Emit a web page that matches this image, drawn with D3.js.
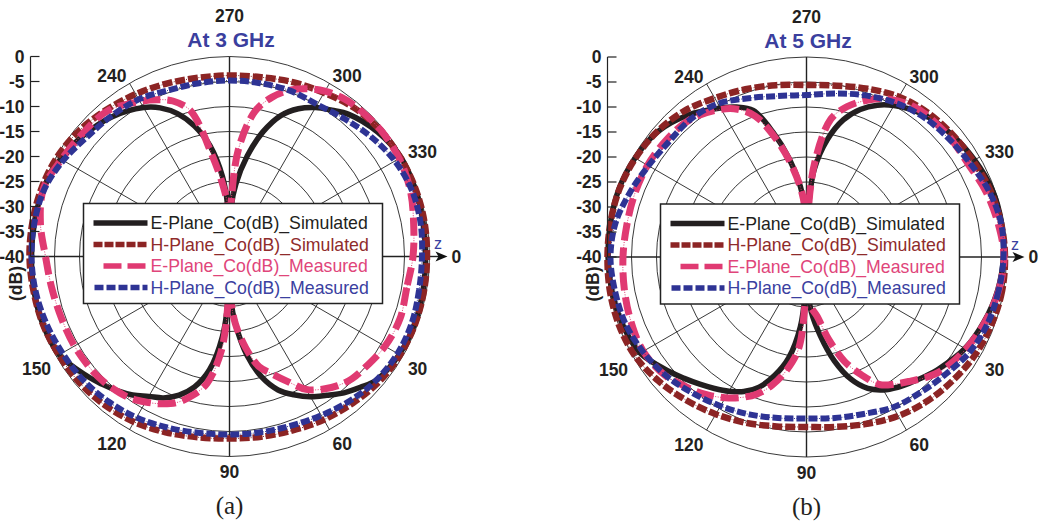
<!DOCTYPE html>
<html><head><meta charset="utf-8">
<script src="https://cdn.jsdelivr.net/npm/d3@7"></script>
<style>body{margin:0;background:#fff}</style>
</head><body><svg id="c" width="1046" height="522"></svg>
<script>
// ---------- DATA ----------
const seriesNames = ["E-Plane_Co(dB)_Simulated","H-Plane_Co(dB)_Simulated","E-Plane_Co(dB)_Measured","H-Plane_Co(dB)_Measured"];
const panelTitles = ["At 3 GHz","At 5 GHz"];
const panelTags = ["(a)","(b)"];
const radialTicks = [0,-5,-10,-15,-20,-25,-30,-35,-40];
const angleTickLabels = [0,30,60,90,120,150,240,270,300,330];
const spokeAngles = [0,30,60,90,120,150,180,210,240,270,300,330];

// angles (deg, clockwise from the right) for H-plane series
const angH = [0,10,20,30,40,50,60,70,80,90,100,110,120,130,140,150,160,170,180,190,200,210,220,230,240,250,260,270,280,290,300,310,320,330,340,350];
// angles for E-plane series (denser near the nulls)
const angE = [0,10,20,30,40,45,50,55,60,65,70,75,80,85,88,90,92,95,100,105,110,115,120,125,130,135,140,150,160,170,180,190,200,210,220,230,240,245,250,255,260,265,268,270,272,275,280,285,290,295,300,305,310,320,330,340,350];

// 3 GHz
const eSim3 = [-0.8,-0.7,-0.6,-0.8,-1.6,-3,-4.4,-6.1,-7.6,-9.5,-11.6,-15,-20,-26.5,-31,-40,-31,-24,-17,-13,-10.5,-8.8,-7.7,-6.2,-5,-3.9,-2.8,-0.7,-0.3,-0.3,-0.4,-0.4,-0.4,-1,-2.1,-3.5,-5.6,-7.2,-9.6,-13,-17.5,-24,-30,-40,-30,-25.5,-19.6,-14.2,-10,-7.4,-5.6,-4.3,-2.9,-1.3,-0.4,-0.5,-0.7];
const hSim3 = [-0.5,-0.5,-0.5,-0.6,-1,-1.7,-2.3,-3,-3.4,-3.6,-3.3,-2.6,-1.8,-1.2,-0.8,-0.6,-0.3,-0.2,0,0,0,-0.2,-0.8,-1.7,-2.5,-3.2,-3.7,-3.8,-3.6,-2.9,-2.2,-1.2,-0.7,-0.5,-0.4,-0.4];
const eMeas3 = [-3.3,-4,-3.7,-4.1,-5,-5.4,-6.3,-7.6,-9.3,-12.4,-15,-17.2,-21.5,-26.5,-31,-38,-30,-21,-14.3,-11.2,-8.9,-7.5,-6.4,-5.4,-4.9,-4.5,-4.3,-4.2,-4.2,-3.9,-3.2,-1.6,-0.4,-1.2,-1.7,-2,-4.2,-5.4,-6.9,-9.8,-19,-26,-30,-38,-28,-18,-10.5,-7,-4.6,-3,-1.8,-1.1,-0.8,-0.6,-0.8,-1.5,-2.6];
const hMeas3 = [-1.5,-1.5,-1.2,-1.2,-1.6,-2.4,-3.3,-4,-4.3,-4.4,-4.2,-3.6,-2.8,-2.2,-1.7,-1.4,-1,-0.6,-0.4,-0.4,-0.6,-1.6,-2.8,-3.3,-3.7,-4.6,-4.8,-4.8,-4.8,-4.7,-4.9,-4.1,-2.9,-1.8,-1.2,-1.2];

// 5 GHz
const eSim5 = [-0.6,-1.2,-2.2,-3.4,-5.3,-6.3,-7.3,-8.2,-9.3,-11,-14,-18.5,-24,-29,-34,-40,-33,-26,-19.5,-15.5,-12.3,-10.3,-9,-7.9,-6.8,-5.6,-4.3,-1.6,-0.8,-0.5,-0.3,-0.2,-0.1,-0.4,-1.1,-3,-5.6,-6.9,-8.8,-14.2,-20,-25.8,-30,-40,-31,-22.5,-16.2,-11.6,-8.6,-6.5,-5,-3.9,-3,-2,-1.2,-0.5,-0.4];
const hSim5 = [-0.3,-0.3,-0.6,-1,-1.7,-2.4,-3.3,-4.5,-5.5,-6,-5.6,-4.7,-3.7,-2.6,-1.4,-0.4,-0.1,-0.1,-0.2,-0.2,-0.2,-0.5,-1,-1.9,-3.3,-4.3,-5.1,-5.6,-5.2,-4.2,-3,-2.3,-1.9,-1.5,-0.9,-0.5];
const eMeas5 = [-0.5,-1,-2,-3.2,-4.7,-6,-7.6,-9,-10.5,-14,-17.8,-23,-28,-30,-33,-38,-30,-21.5,-17,-13.5,-10.8,-9,-7.5,-6.2,-5.1,-4.2,-3.1,-2.3,-2.6,-3,-3.3,-3.5,-3.4,-3.3,-3.5,-4,-5.9,-7.4,-10,-15,-20.5,-26,-30,-38,-31,-21,-12,-8.9,-6.8,-5,-3.9,-3.1,-2.8,-2.7,-2.7,-1.8,-1.1];
const hMeas5 = [-0.6,-1,-1.4,-2.2,-3.6,-4.6,-5.3,-6.6,-7.3,-7.7,-7.3,-6.5,-5.6,-4.5,-3.2,-2.2,-1.4,-1.1,-0.8,-1.2,-2.4,-3.5,-4.1,-4,-4.6,-6.2,-7.3,-7.6,-6.8,-5.6,-4.4,-3.5,-3,-2.3,-1.2,-0.5];

// ---------- DRAWING ----------
const svg = d3.select('#c');
const R = 200;
const FONT = '"Liberation Sans", Arial, Helvetica, sans-serif';
const rScale = d3.scaleLinear().domain([-40, 0]).range([0, R]).clamp(true);
const toRad = a => a * Math.PI / 180;

const styles = [
  {color:"#231f20", text:"#231f20", width:5.5, dash:null,   legDash:null,   legStart:0},
  {color:"#8c2424", text:"#8f2b2b", width:6.5, dash:"10,3", legDash:"9,2",  legStart:0},
  {color:"#e03a72", text:"#e0457a", width:7,   dash:"18,7", legDash:"18,6", legStart:10},
  {color:"#2e3394", text:"#3a40a0", width:6,   dash:"9,3",  legDash:"9,3",  legStart:1}
];

const panels = [
  {cx:229.5, cy:256.5, title:panelTitles[0], tag:panelTags[0],
   series:[{a:angE,v:eSim3},{a:angH,v:hSim3},{a:angE,v:eMeas3},{a:angH,v:hMeas3}]},
  {cx:806.5, cy:257, title:panelTitles[1], tag:panelTags[1],
   series:[{a:angE,v:eSim5},{a:angH,v:hSim5},{a:angE,v:eMeas5},{a:angH,v:hMeas5}]}
];

const line = d3.lineRadial()
  .angle(d => toRad(d[0] + 90))
  .radius(d => rScale(d[1]))
  .curve(d3.curveCatmullRomClosed.alpha(0.5));

panels.forEach(p => {
  const g = svg.append('g').attr('transform', `translate(${p.cx},${p.cy})`);
  const grid = g.append('g').attr('stroke', '#222').attr('fill', 'none');
  // circles
  radialTicks.filter(t => t > -40).forEach(t => {
    grid.append('circle').attr('r', rScale(t)).attr('stroke-width', 0.9);
  });
  // spokes
  spokeAngles.forEach(a => {
    const th = toRad(a);
    grid.append('line').attr('x1', 0).attr('y1', 0)
      .attr('x2', R * Math.cos(th)).attr('y2', R * Math.sin(th))
      .attr('stroke-width', (a % 90 === 0) ? 1.4 : 0.9);
  });
  // z-axis arrow
  grid.append('line').attr('x1', R).attr('y1', 0).attr('x2', R + 10).attr('y2', 0).attr('stroke-width', 1.4);
  g.append('path').attr('d', `M${R+18},0 L${R+6},-5 L${R+9},0 L${R+6},5 Z`).attr('fill', '#111');
  g.append('text').attr('x', R + 8.5).attr('y', -13).attr('text-anchor', 'middle')
    .attr('dominant-baseline', 'central').attr('font-family', FONT).attr('font-size', 16)
    .attr('fill', '#3a40a0').text('z');

  // curves
  p.series.forEach((s, i) => {
    const st = styles[i];
    const pts = s.a.map((a, k) => [a, s.v[k]]);
    if (st.dash) {
      g.append('path').attr('d', line(pts)).attr('fill', 'none')
        .attr('stroke', st.color).attr('stroke-width', 1).attr('stroke-dasharray', '1,1.5');
    }
    g.append('path').attr('d', line(pts)).attr('fill', 'none')
      .attr('stroke', st.color).attr('stroke-width', st.width)
      .attr('stroke-dasharray', st.dash).attr('stroke-linejoin', 'round');
  });

  // radial axis at left
  const ax = g.append('g').attr('transform', `translate(${-R + 1},0)`);
  ax.append('line').attr('x1', 0).attr('y1', -rScale(0)).attr('x2', 0).attr('y2', 0)
    .attr('stroke', '#222').attr('stroke-width', 1.2);
  radialTicks.forEach(t => {
    const y = -rScale(t);
    ax.append('line').attr('x1', 0).attr('x2', 9).attr('y1', y).attr('y2', y)
      .attr('stroke', '#222').attr('stroke-width', 1.2);
    ax.append('text').attr('x', -6).attr('y', y).attr('text-anchor', 'end')
      .attr('dominant-baseline', 'central').attr('font-family', FONT)
      .attr('font-weight', 'bold').attr('font-size', 17.5).attr('fill', '#231f20')
      .text(t);
  });
  g.append('text').attr('transform', `translate(${-R - 14},27) rotate(-90)`)
    .attr('text-anchor', 'middle').attr('dominant-baseline', 'central')
    .attr('font-family', FONT).attr('font-weight', 'bold').attr('font-size', 17.5)
    .attr('fill', '#231f20').text('(dB)');

  // angle labels
  angleTickLabels.forEach(a => {
    const th = toRad(a);
    const t = g.append('text').attr('font-family', FONT).attr('font-weight', 'bold')
      .attr('font-size', 17.5).attr('fill', '#231f20').attr('dominant-baseline', 'central').text(a);
    if (a === 270) {
      t.attr('x', 0).attr('y', -240.5).attr('text-anchor', 'middle');
    } else if (a === 0) {
      t.attr('x', R + 22).attr('y', 0).attr('text-anchor', 'start');
    } else {
      const rr = 206;
      const x = rr * Math.cos(th), y = rr * Math.sin(th);
      const c = Math.cos(th);
      const anchor = Math.abs(c) < 0.01 ? 'middle' : (c > 0 ? 'start' : 'end');
      t.attr('x', x).attr('y', y + (Math.sin(th) > 0 ? 9.5 : -2)).attr('text-anchor', anchor);
    }
  });

  // title
  g.append('text').attr('x', 1.5).attr('y', -217).attr('text-anchor', 'middle')
    .attr('dominant-baseline', 'central').attr('font-family', FONT).attr('font-weight', 'bold')
    .attr('font-size', 21).attr('fill', '#3b3f9e').text(p.title);

  // legend
  const lg = g.append('g').attr('transform', 'translate(-146,-53)');
  lg.append('rect').attr('width', 299).attr('height', 100).attr('fill', '#fff')
    .attr('stroke', '#222').attr('stroke-width', 1.5);
  seriesNames.forEach((nm, i) => {
    const st = styles[i];
    const y = 19.5 + i * 21.5;
    lg.append('line').attr('x1', 10 + st.legStart).attr('x2', 64).attr('y1', y).attr('y2', y)
      .attr('stroke', st.color).attr('stroke-width', 5.5).attr('stroke-dasharray', st.legDash);
    lg.append('text').attr('x', 67).attr('y', y).attr('dominant-baseline', 'central')
      .attr('font-family', FONT).attr('font-size', 17.7).attr('fill', st.text).text(nm);
  });

  // panel tag
  g.append('text').attr('x', 0).attr('y', 249).attr('text-anchor', 'middle')
    .attr('dominant-baseline', 'central').attr('font-family', '"Liberation Serif", "Times New Roman", serif')
    .attr('font-size', 25).attr('fill', '#231f20').text(p.tag);
});
</script>
</body></html>
